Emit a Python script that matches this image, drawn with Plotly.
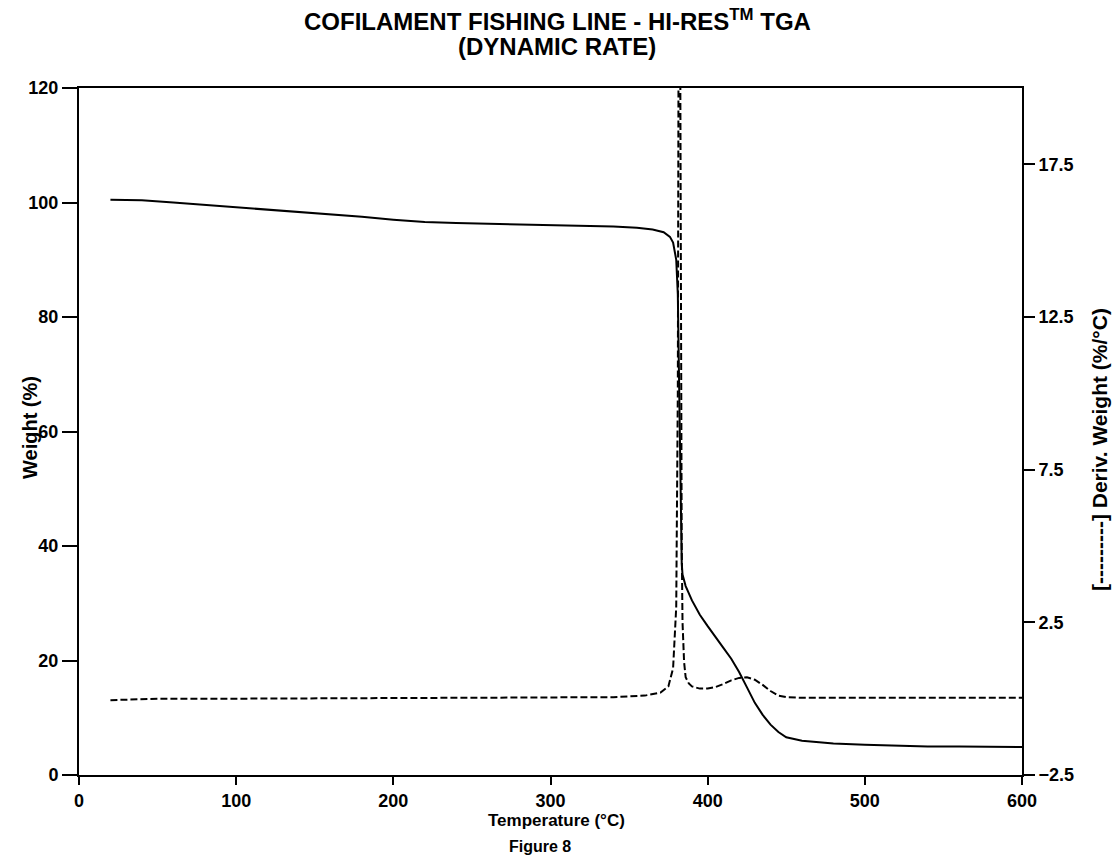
import plotly.graph_objects as go

# Weight curve (left axis)
temp_w = [20, 40, 60, 80, 100, 120, 140, 160, 180, 200, 220, 240, 260, 280, 300, 320, 340,
          355, 365, 372, 376, 378, 380, 381, 381.5, 382, 382.5, 383, 383.5, 384, 386, 390,
          395, 400, 405, 410, 415, 420, 425, 430, 435, 440, 445, 450, 460, 470, 480, 500,
          520, 540, 560, 580, 600]
weight = [100.5, 100.4, 100.0, 99.6, 99.2, 98.8, 98.4, 98.0, 97.5, 97.0, 96.6, 96.4, 96.3,
          96.2, 96.1, 96.0, 95.8, 95.6, 95.3, 94.8, 94.0, 93.0, 90.0, 84.0, 75.0, 62.0, 50.0,
          41.0, 37.0, 35.0, 33.0, 30.5, 28.0, 26.0, 24.0, 22.2, 20.3, 18.0, 15.3, 12.6, 10.5,
          8.8, 7.5, 6.6, 6.0, 5.7, 5.5, 5.3, 5.1, 5.0, 5.0, 4.95, 4.9]

# Derivative weight curve (right axis)
temp_d = [20, 50, 100, 150, 200, 250, 300, 340, 360, 370, 375, 378, 380, 381, 381.5, 382,
          382.5, 383, 383.5, 384, 385, 386, 388, 390, 395, 400, 405, 410, 415, 420, 425,
          430, 435, 440, 445, 450, 460, 480, 500, 550, 600]
deriv = [-0.05, 0.0, 0.0, 0.0, 0.02, 0.03, 0.03, 0.05, 0.1, 0.2, 0.4, 1.0, 3.0, 10.0, 22.0,
         25.0, 22.0, 12.0, 5.0, 2.5, 1.2, 0.7, 0.5, 0.4, 0.33, 0.33, 0.38, 0.48, 0.6, 0.68,
         0.7, 0.62, 0.45, 0.25, 0.1, 0.05, 0.03, 0.03, 0.03, 0.03, 0.03]

x_ticks = [0, 100, 200, 300, 400, 500, 600]
y_ticks = [0, 20, 40, 60, 80, 100, 120]
y2_ticks = [-2.5, 2.5, 7.5, 12.5, 17.5]

FONT = "Arial"

fig = go.Figure()
fig.add_trace(go.Scatter(x=temp_w, y=weight, mode="lines",
                         line=dict(color="black", width=2), yaxis="y"))
fig.add_trace(go.Scatter(x=temp_d, y=deriv, mode="lines",
                         line=dict(color="black", width=2, dash="7px,3px"), yaxis="y2"))

W, H = 1112, 863
L, R, T, B = 79, 1022, 88, 775  # plot area in page pixels


def px(xp):
    return (xp - L) / (R - L)


def py(yp):
    return (B - yp) / (B - T)


def ann(text, x, y, size, angle=0):
    return dict(text=text, x=px(x), y=py(y), xref="paper", yref="paper",
                xanchor="center", yanchor="middle", showarrow=False, textangle=angle,
                font=dict(size=size, family=FONT, color="black"))


fig.update_layout(
    width=W, height=H, autosize=False,
    margin=dict(l=L, r=W - R, t=T, b=H - B, pad=0),
    paper_bgcolor="white", plot_bgcolor="white",
    showlegend=False,
    font=dict(family=FONT, color="black"),
    xaxis=dict(range=[0, 600], tickvals=x_ticks, showgrid=False, zeroline=False,
               showline=True, linecolor="black", linewidth=2, mirror=True,
               ticks="outside", ticklen=8, tickwidth=2, tickcolor="black",
               tickfont=dict(size=18, family=FONT, weight="bold"), automargin=False),
    yaxis=dict(range=[0, 120], tickvals=y_ticks, showgrid=False, zeroline=False,
               showline=True, linecolor="black", linewidth=2,
               ticks="outside", ticklen=15, tickwidth=2, tickcolor="black",
               tickfont=dict(size=18, family=FONT, weight="bold"), automargin=False),
    yaxis2=dict(range=[-2.5, 20], tickvals=y2_ticks, overlaying="y", side="right",
                showgrid=False, zeroline=False,
                showline=True, linecolor="black", linewidth=2,
                ticks="outside", ticklen=11, tickwidth=2, tickcolor="black",
                tickfont=dict(size=18, family=FONT, weight="bold"), automargin=False),
    annotations=[
        ann("<b>COFILAMENT FISHING LINE - HI-RES<sup>TM</sup> TGA</b>", 557, 20, 24),
        ann("<b>(DYNAMIC RATE)</b>", 557, 46, 24),
        ann("<b>Temperature (°C)</b>", 556, 820, 17),
        ann("<b>Figure 8</b>", 540, 846, 16),
        ann("<b>Weight (%)</b>", 30, 428, 20, -90),
        ann("<b>[---------] Deriv. Weight (%/°C)</b>", 1099, 450, 21, -90),
    ],
)

fig.write_html(
    "out.html",
    config={"displayModeBar": False},
    post_script="document.body.style.margin='0';document.body.style.overflow='hidden';",
)
